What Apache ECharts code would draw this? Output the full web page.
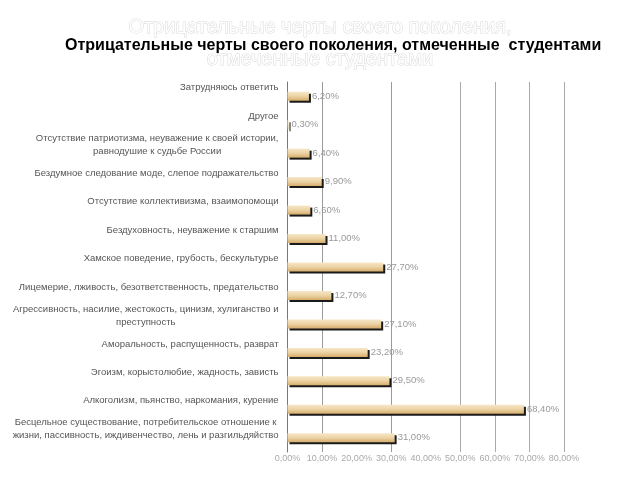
<!DOCTYPE html>
<html><head><meta charset="utf-8">
<script src="https://cdn.jsdelivr.net/npm/echarts@6/dist/echarts.min.js"></script>
<style>html,body{margin:0;padding:0;background:#fff}#c{width:640px;height:480px}</style>
</head><body><div id="c"></div>
<script>
var categories = [
  "Затрудняюсь ответить",
  "Другое",
  "Отсутствие патриотизма, неуважение к своей истории,\nравнодушие к судьбе России",
  "Бездумное следование моде, слепое подражательство",
  "Отсутствие коллективизма, взаимопомощи",
  "Бездуховность, неуважение к старшим",
  "Хамское поведение, грубость, бескультурье",
  "Лицемерие, лживость, безответственность, предательство",
  "Агрессивность, насилие, жестокость, цинизм, хулиганство и\nпреступность",
  "Аморальность, распущенность, разврат",
  "Эгоизм, корыстолюбие, жадность, зависть",
  "Алкоголизм, пьянство, наркомания, курение",
  "Бесцельное существование, потребительское отношение к\nжизни, пассивность, иждивенчество, лень и разгильдяйство"
];
var values = [6.2, 0.3, 6.4, 9.9, 6.6, 11.0, 27.7, 12.7, 27.1, 23.2, 29.5, 68.4, 31.0];
var xTicks = [0, 10, 20, 30, 40, 50, 60, 70, 80];
var titleText = "Отрицательные черты своего поколения, отмеченные  студентами";
var ghostLine1 = "Отрицательные черты своего поколения,";
var ghostLine2 = "отмеченные студентами";

function pct(v){ return v.toFixed(2).replace('.', ',') + '%'; }

var FONT = '"Liberation Sans", Arial, sans-serif';
var chart = echarts.init(document.getElementById('c'));
chart.setOption({
  animation: false,
  graphic: [
    {type:'text', left:'center', top:17, style:{text:ghostLine1, font:'20px "Liberation Sans Narrow", "Liberation Sans", Arial, sans-serif', fill:'#fff', stroke:'#d8d8d8', lineWidth:1}},
    {type:'text', left:'center', top:49, style:{text:ghostLine2, font:'20px "Liberation Sans Narrow", "Liberation Sans", Arial, sans-serif', fill:'#fff', stroke:'#d8d8d8', lineWidth:1}}
  ],
  title: {
    text: titleText, left: 60, top: 33,
    textStyle: {fontFamily: FONT, fontSize: 16, fontWeight: 'bold', color: '#000'}
  },
  grid: {left: 287.5, right: 76, top: 82, bottom: 28, containLabel: false},
  xAxis: {
    type: 'value', min: 0, max: 80, interval: 10,
    axisLine: {show: false}, axisTick: {show: false},
    splitLine: {show: true, lineStyle: {color: ['#aaa','#9a9a9a','rgba(0,0,0,0)','#9a9a9a','rgba(0,0,0,0)','#aaa','#aaa','#aaa','#aaa'], width: 1}},
    axisLabel: {
      margin: 2, color: '#aaa', fontSize: 9, fontFamily: FONT,
      formatter: function(v){ return pct(v); }
    }
  },
  yAxis: {
    type: 'category', data: categories, inverse: true,
    axisLine: {show: true, lineStyle: {color: '#777', width: 1}},
    axisTick: {show: false},
    axisLabel: {
      interval: 0,
      margin: 9, color: '#555', fontSize: 9.5, fontFamily: FONT,
      align: 'right', padding: [0, 0, 17, 0], lineHeight: 13,
      formatter: function(v){
        return v.split('\n').map(function(s){ return '{c|' + s + '}'; }).join('\n');
      },
      rich: {c: {align: 'center', color: '#555', fontSize: 9.5, lineHeight: 13, fontFamily: FONT}}
    }
  },
  series: [{
    type: 'bar', data: values, barWidth: 9,
    itemStyle: {
      color: new echarts.graphic.LinearGradient(0, 0, 0, 1, [
        {offset: 0, color: '#f6e7c8'}, {offset: 0.5, color: '#ecd3a4'}, {offset: 1, color: '#d6ad6c'}
      ]),
      shadowColor: '#1a1a1a', shadowOffsetX: 2, shadowOffsetY: 2, shadowBlur: 0
    },
    label: {
      show: true, position: 'right', distance: 3, color: '#999', fontSize: 9.5,
      fontFamily: FONT,
      formatter: function(p){ return pct(p.value); }
    }
  }]
});
</script></body></html>
